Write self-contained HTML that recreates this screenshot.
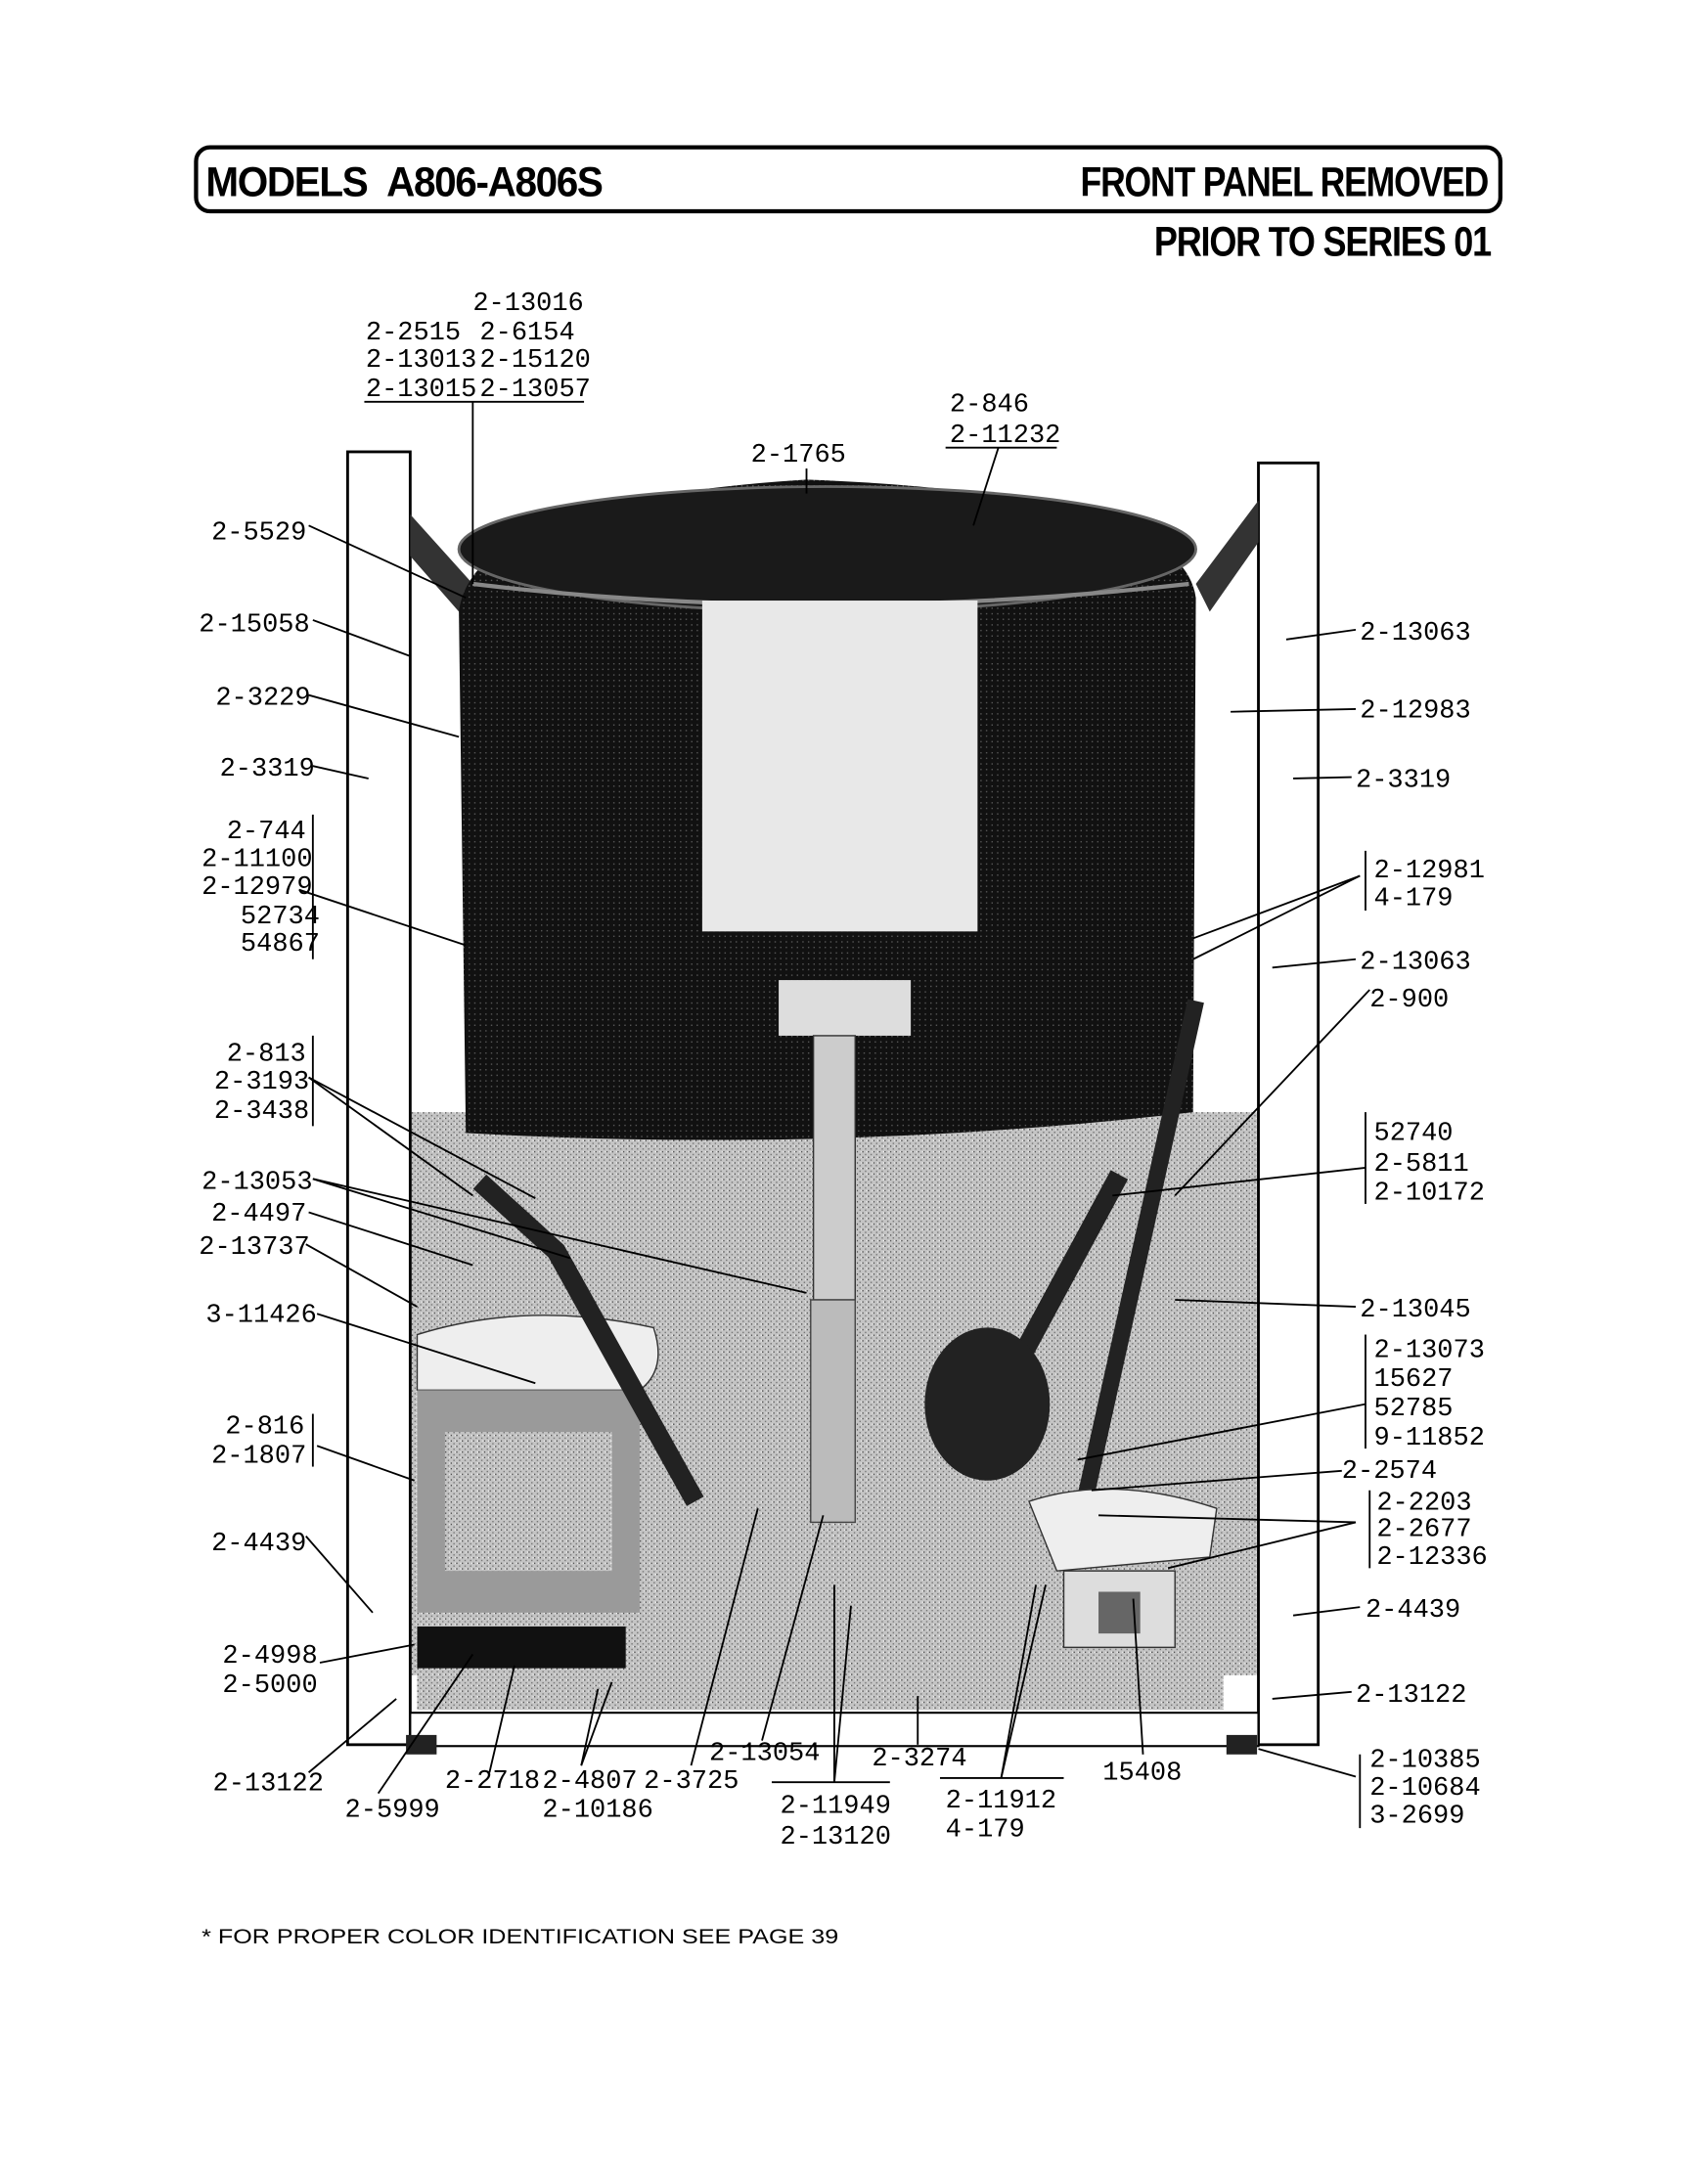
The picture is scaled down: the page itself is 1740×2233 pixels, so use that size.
<!DOCTYPE html>
<html><head><meta charset="utf-8"><style>
html,body{margin:0;padding:0;background:#fff}
svg{display:block}
.l{font-family:"Liberation Mono",monospace;font-size:19px;fill:#000}
.h{font-family:"Liberation Sans",sans-serif;font-weight:bold;font-size:30px;fill:#000;letter-spacing:-1px}
line,polyline{stroke:#000;stroke-width:1.3;fill:none}
</style></head><body>
<svg width="1740" height="2233" viewBox="0 0 1224 1571" preserveAspectRatio="none" xmlns="http://www.w3.org/2000/svg">
<defs>
<pattern id="st" width="4" height="4" patternUnits="userSpaceOnUse">
<rect width="4" height="4" fill="#c4c4c4"/><rect x="0" y="0" width="1" height="1" fill="#555"/><rect x="2" y="2" width="1" height="1" fill="#777"/><rect x="3" y="0" width="1" height="1" fill="#eee"/>
</pattern>
<pattern id="dk" width="4" height="4" patternUnits="userSpaceOnUse">
<rect width="4" height="4" fill="#111"/><rect x="1" y="1" width="1" height="1" fill="#555"/>
</pattern>
</defs>
<!-- header -->
<rect x="141" y="106" width="938" height="46" rx="10" fill="none" stroke="#000" stroke-width="3"/>
<text class="h" x="148" y="141" textLength="285" lengthAdjust="spacingAndGlyphs">MODELS&#160;&#160;A806-A806S</text>
<text class="h" x="777" y="141" textLength="293" lengthAdjust="spacingAndGlyphs">FRONT PANEL REMOVED</text>
<text class="h" x="830" y="184" textLength="242" lengthAdjust="spacingAndGlyphs">PRIOR TO SERIES 01</text>

<!-- machine body -->
<rect x="295" y="800" width="610" height="405" fill="url(#st)"/>
<path d="M300 1080 Q560 1060 880 1090 L880 1230 L300 1230Z" fill="url(#st)"/>
<rect x="250" y="325" width="45" height="930" fill="#fff" stroke="#000" stroke-width="2"/>
<rect x="905" y="333" width="43" height="922" fill="#fff" stroke="#000" stroke-width="2"/>
<rect x="295" y="1232" width="610" height="24" fill="#fff" stroke="#000" stroke-width="1.5"/>
<rect x="292" y="1248" width="22" height="14" fill="#222"/>
<rect x="882" y="1248" width="22" height="14" fill="#222"/>
<path d="M295 370 L340 420 L330 440 L295 400Z" fill="#333"/>
<path d="M905 360 L860 420 L870 440 L905 390Z" fill="#333"/>
<!-- tub -->
<path d="M330 440 Q340 360 580 345 Q850 355 860 430 L858 800 Q600 830 335 815 Z" fill="url(#dk)"/>
<ellipse cx="595" cy="395" rx="265" ry="45" fill="#1a1a1a" stroke="#666" stroke-width="2"/>
<path d="M340 420 Q590 450 855 420" stroke="#888" stroke-width="3" fill="none"/>
<rect x="505" y="432" width="198" height="238" fill="#e8e8e8"/>
<rect x="560" y="705" width="95" height="40" fill="#ddd"/>
<!-- motor -->
<path d="M300 960 Q380 935 470 955 Q480 985 460 1000 L300 1000Z" fill="#eee" stroke="#333"/>
<rect x="300" y="1000" width="160" height="160" fill="#9a9a9a"/>
<rect x="320" y="1030" width="120" height="100" fill="url(#st)"/>
<rect x="300" y="1170" width="150" height="30" fill="#111"/>
<rect x="585" y="745" width="30" height="190" fill="#ccc" stroke="#333"/>
<rect x="583" y="935" width="32" height="160" fill="#bbb" stroke="#444"/>
<polyline points="345,850 400,900 500,1080" style="stroke:#222;stroke-width:14"/>
<polyline points="805,845 700,1040" style="stroke:#222;stroke-width:14"/>
<polyline points="860,720 780,1080" style="stroke:#222;stroke-width:12"/>
<ellipse cx="710" cy="1010" rx="45" ry="55" fill="#222"/>
<path d="M740 1080 Q800 1060 875 1085 L870 1120 L760 1130Z" fill="#eee" stroke="#333"/>
<rect x="765" y="1130" width="80" height="55" fill="#ddd" stroke="#333"/>
<rect x="790" y="1145" width="30" height="30" fill="#666"/>

<g class="l">
<text x="340" y="223">2-13016</text>
<text x="263" y="244">2-2515</text><text x="345" y="244">2-6154</text>
<text x="263" y="264">2-13013</text><text x="345" y="264">2-15120</text>
<text x="263" y="285">2-13015</text><text x="345" y="285">2-13057</text>
<text x="683" y="296">2-846</text>
<text x="683" y="318">2-11232</text>
<text x="540" y="332">2-1765</text>
<text x="152" y="388">2-5529</text>
<text x="143" y="454">2-15058</text>
<text x="155" y="507">2-3229</text>
<text x="158" y="558">2-3319</text>
<text x="163" y="603">2-744</text>
<text x="145" y="623">2-11100</text>
<text x="145" y="643">2-12979</text>
<text x="173" y="664">52734</text>
<text x="173" y="684">54867</text>
<text x="163" y="763">2-813</text>
<text x="154" y="783">2-3193</text>
<text x="154" y="804">2-3438</text>
<text x="145" y="855">2-13053</text>
<text x="152" y="878">2-4497</text>
<text x="143" y="902">2-13737</text>
<text x="148" y="951">3-11426</text>
<text x="162" y="1031">2-816</text>
<text x="152" y="1052">2-1807</text>
<text x="152" y="1115">2-4439</text>
<text x="160" y="1196">2-4998</text>
<text x="160" y="1217">2-5000</text>
<text x="153" y="1288">2-13122</text>
<text x="248" y="1307">2-5999</text>
<text x="320" y="1286">2-2718</text>
<text x="390" y="1286">2-4807</text>
<text x="390" y="1307">2-10186</text>
<text x="463" y="1286">2-3725</text>
<text x="510" y="1266">2-13054</text>
<text x="627" y="1270">2-3274</text>
<text x="561" y="1304">2-11949</text>
<text x="561" y="1326">2-13120</text>
<text x="680" y="1300">2-11912</text>
<text x="680" y="1321">4-179</text>
<text x="793" y="1280">15408</text>
<text x="985" y="1271">2-10385</text>
<text x="985" y="1291">2-10684</text>
<text x="985" y="1311">3-2699</text>
<text x="978" y="460">2-13063</text>
<text x="978" y="516">2-12983</text>
<text x="975" y="566">2-3319</text>
<text x="988" y="631">2-12981</text>
<text x="988" y="651">4-179</text>
<text x="978" y="697">2-13063</text>
<text x="985" y="724">2-900</text>
<text x="988" y="820">52740</text>
<text x="988" y="842">2-5811</text>
<text x="988" y="863">2-10172</text>
<text x="978" y="947">2-13045</text>
<text x="988" y="976">2-13073</text>
<text x="988" y="997">15627</text>
<text x="988" y="1018">52785</text>
<text x="988" y="1039">9-11852</text>
<text x="965" y="1063">2-2574</text>
<text x="990" y="1086">2-2203</text>
<text x="990" y="1105">2-2677</text>
<text x="990" y="1125">2-12336</text>
<text x="982" y="1163">2-4439</text>
<text x="975" y="1224">2-13122</text>
</g>
<text x="145" y="1398" textLength="458" lengthAdjust="spacingAndGlyphs" style="font-family:'Liberation Sans',sans-serif;font-size:15px">* FOR PROPER COLOR IDENTIFICATION SEE PAGE 39</text>

<line x1="262" y1="289" x2="420" y2="289"/>
<line x1="340" y1="289" x2="340" y2="420"/>
<line x1="680" y1="322" x2="760" y2="322"/>
<line x1="718" y1="322" x2="700" y2="378"/>
<line x1="580" y1="337" x2="580" y2="355"/>
<line x1="222" y1="378" x2="335" y2="430"/>
<line x1="225" y1="446" x2="295" y2="472"/>
<line x1="222" y1="500" x2="330" y2="530"/>
<line x1="225" y1="551" x2="265" y2="560"/>
<line x1="225" y1="586" x2="225" y2="690"/>
<line x1="215" y1="640" x2="335" y2="680"/>
<line x1="225" y1="745" x2="225" y2="810"/>
<line x1="222" y1="775" x2="340" y2="860"/><line x1="222" y1="775" x2="385" y2="862"/>
<line x1="225" y1="848" x2="410" y2="905"/><line x1="225" y1="848" x2="580" y2="930"/>
<line x1="222" y1="872" x2="340" y2="910"/>
<line x1="220" y1="895" x2="300" y2="940"/>
<line x1="228" y1="945" x2="385" y2="995"/>
<line x1="225" y1="1017" x2="225" y2="1055"/>
<line x1="228" y1="1040" x2="298" y2="1065"/>
<line x1="220" y1="1105" x2="268" y2="1160"/>
<line x1="230" y1="1196" x2="298" y2="1183"/>
<line x1="222" y1="1275" x2="285" y2="1222"/>
<line x1="272" y1="1290" x2="340" y2="1190"/>
<line x1="352" y1="1275" x2="370" y2="1198"/>
<line x1="418" y1="1270" x2="430" y2="1215"/><line x1="418" y1="1270" x2="440" y2="1210"/>
<line x1="497" y1="1270" x2="545" y2="1085"/>
<line x1="548" y1="1252" x2="592" y2="1090"/>
<line x1="660" y1="1255" x2="660" y2="1220"/>
<line x1="555" y1="1282" x2="640" y2="1282"/>
<line x1="600" y1="1282" x2="600" y2="1140"/><line x1="600" y1="1282" x2="612" y2="1155"/>
<line x1="676" y1="1279" x2="765" y2="1279"/>
<line x1="720" y1="1279" x2="745" y2="1140"/><line x1="720" y1="1279" x2="752" y2="1140"/>
<line x1="822" y1="1262" x2="815" y2="1150"/>
<line x1="978" y1="1262" x2="978" y2="1315"/>
<line x1="975" y1="1278" x2="905" y2="1258"/>
<line x1="975" y1="453" x2="925" y2="460"/>
<line x1="975" y1="510" x2="885" y2="512"/>
<line x1="972" y1="559" x2="930" y2="560"/>
<line x1="982" y1="612" x2="982" y2="655"/>
<line x1="978" y1="630" x2="858" y2="675"/><line x1="978" y1="630" x2="858" y2="690"/>
<line x1="975" y1="690" x2="915" y2="696"/>
<line x1="985" y1="712" x2="845" y2="860"/>
<line x1="982" y1="800" x2="982" y2="866"/>
<line x1="982" y1="840" x2="800" y2="860"/>
<line x1="975" y1="940" x2="845" y2="935"/>
<line x1="982" y1="960" x2="982" y2="1042"/>
<line x1="982" y1="1010" x2="775" y2="1050"/>
<line x1="965" y1="1058" x2="785" y2="1072"/>
<line x1="985" y1="1072" x2="985" y2="1128"/>
<line x1="975" y1="1095" x2="790" y2="1090"/><line x1="975" y1="1095" x2="840" y2="1128"/>
<line x1="978" y1="1156" x2="930" y2="1162"/>
<line x1="972" y1="1217" x2="915" y2="1222"/>
</svg>
</body></html>
